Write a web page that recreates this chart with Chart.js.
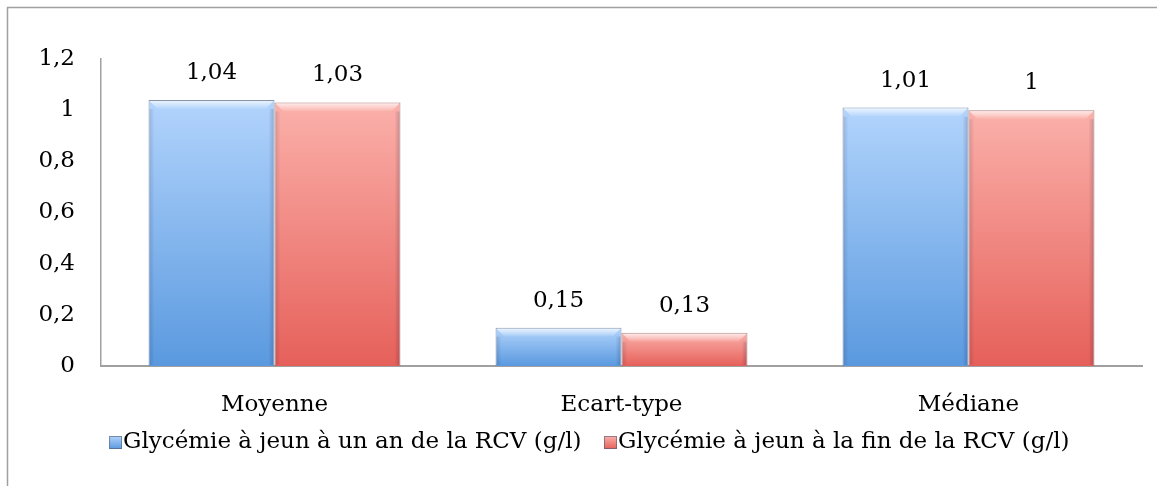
<!DOCTYPE html>
<html>
<head>
<meta charset="utf-8">
<script src="https://cdn.jsdelivr.net/npm/chart.js@4/dist/chart.umd.min.js"></script>
<style>
  html, body { margin: 0; padding: 0; background: #fff; }
  #wrap { width: 1157px; height: 486px; position: relative; }
</style>
</head>
<body>
<div id="wrap"><canvas id="myChart" width="1157" height="486"></canvas></div>
<script>
// donnees
var categories = ['Moyenne', 'Ecart-type', 'Médiane'];
var serieUnAn = [1.04, 0.15, 1.01];
var serieFin = [1.03, 0.13, 1.00];
var nomsSeries = ['Glycémie à jeun à un an de la RCV (g/l)', 'Glycémie à jeun à la fin de la RCV (g/l)'];
var yTicks = [0, 0.2, 0.4, 0.6, 0.8, 1, 1.2];

var police = 'DejaVu Serif';
var taille = 23;

// couleurs (haut clair, bas fonce)
var bleu = ['#b2d4fc', '#5a99df'];
var rouge = ['#fbb0aa', '#e6605a'];

function virgule(v) {
  return String(Math.round(v * 100) / 100).replace('.', ',');
}

function degradeBarre(c, couleurs) {
  var chart = c.chart;
  if (!chart.chartArea || c.type !== 'data') return couleurs[1];
  var y = chart.scales.y;
  var haut = y.getPixelForValue(c.raw);
  var bas = y.getPixelForValue(0);
  if (bas - haut < 1) return couleurs[1];
  var g = chart.ctx.createLinearGradient(0, haut, 0, bas);
  g.addColorStop(0, couleurs[0]);
  g.addColorStop(1, couleurs[1]);
  return g;
}

// petit carre de legende (decale a droite pour coller au texte)
function marqueur(couleurs) {
  var cv = document.createElement('canvas');
  cv.width = 34; cv.height = 13;
  var cx = cv.getContext('2d');
  var g = cx.createLinearGradient(0, 0, 0, 13);
  g.addColorStop(0, couleurs[0]);
  g.addColorStop(1, couleurs[1]);
  cx.fillStyle = g;
  cx.fillRect(21, 0, 13, 13);
  cx.strokeStyle = 'rgba(80,90,110,0.6)';
  cx.lineWidth = 1;
  cx.strokeRect(21.5, 0.5, 12, 12);
  return cv;
}

// cadre exterieur (haut et gauche)
var cadre = {
  id: 'cadre',
  afterLayout: function(chart) {
    // la legende d'origine est un peu decalee vers la droite
    chart.legend.left += 13;
    chart.legend.right += 13;
  },
  beforeDraw: function(chart) {
    var ctx = chart.ctx;
    ctx.save();
    ctx.strokeStyle = '#a0a0a0';
    ctx.lineWidth = 1.5;
    ctx.beginPath();
    ctx.moveTo(7.5, 486);
    ctx.lineTo(7.5, 7.5);
    ctx.lineTo(1157, 7.5);
    ctx.stroke();
    ctx.restore();
  }
};

// effet de relief + etiquettes de valeurs
var relief = {
  id: 'relief',
  afterDatasetsDraw: function(chart) {
    var ctx = chart.ctx;
    ctx.save();
    chart.data.datasets.forEach(function(ds, i) {
      chart.getDatasetMeta(i).data.forEach(function(bar, j) {
        var x0 = bar.x - bar.width / 2, x1 = bar.x + bar.width / 2;
        var y0 = bar.y, y1 = bar.base;
        var h = y1 - y0;
        var b = Math.min(9, h / 2);
        // bande claire en haut
        var g = ctx.createLinearGradient(0, y0, 0, y0 + b);
        g.addColorStop(0, 'rgba(255,255,255,0.8)');
        g.addColorStop(1, 'rgba(255,255,255,0.05)');
        ctx.fillStyle = g;
        ctx.beginPath();
        ctx.moveTo(x0 + 1, y0 + 1);
        ctx.lineTo(x1 - 1, y0 + 1);
        ctx.lineTo(x1 - b, y0 + b);
        ctx.lineTo(x0 + b, y0 + b);
        ctx.closePath();
        ctx.fill();
        // bords lateraux plus sombres
        var gl = ctx.createLinearGradient(x0, 0, x0 + 6, 0);
        gl.addColorStop(0, 'rgba(0,0,40,0.15)');
        gl.addColorStop(1, 'rgba(0,0,40,0)');
        ctx.fillStyle = gl;
        ctx.fillRect(x0 + 1, y0 + b, 6, h - b - 1);
        var gr = ctx.createLinearGradient(x1, 0, x1 - 6, 0);
        gr.addColorStop(0, 'rgba(0,0,40,0.2)');
        gr.addColorStop(1, 'rgba(0,0,40,0)');
        ctx.fillStyle = gr;
        ctx.fillRect(x1 - 7, y0 + b, 6, h - b - 1);
        // etiquette
        ctx.fillStyle = '#000';
        ctx.font = taille + 'px "' + police + '"';
        ctx.textAlign = 'center';
        ctx.textBaseline = 'middle';
        ctx.fillText(virgule(ds.data[j]), bar.x, y0 - 27);
      });
    });
    ctx.restore();
  }
};

var ctx = document.getElementById('myChart').getContext('2d');
var myChart = new Chart(ctx, {
  type: 'bar',
  data: {
    labels: categories,
    datasets: [
      {
        label: nomsSeries[0],
        data: serieUnAn,
        backgroundColor: function(c) { return degradeBarre(c, bleu); },
        borderColor: 'rgba(70,90,120,0.65)',
        borderWidth: 1,
        pointStyle: marqueur(bleu),
        categoryPercentage: 0.726,
        barPercentage: 1.0
      },
      {
        label: nomsSeries[1],
        data: serieFin,
        backgroundColor: function(c) { return degradeBarre(c, rouge); },
        borderColor: 'rgba(120,70,70,0.65)',
        borderWidth: 1,
        pointStyle: marqueur(rouge),
        categoryPercentage: 0.726,
        barPercentage: 1.0
      }
    ]
  },
  options: {
    responsive: false,
    animation: false,
    layout: { padding: { top: 59, right: 15, left: 0, bottom: 22 } },
    plugins: {
      tooltip: { enabled: false },
      legend: {
        position: 'bottom',
        labels: {
          usePointStyle: true,
          boxWidth: 13,
          boxHeight: 13,
          padding: 12,
          color: '#000',
          font: { family: police, size: taille }
        }
      }
    },
    scales: {
      x: {
        grid: { display: false, drawTicks: false },
        border: { display: true, color: '#a0a0a0', width: 2 },
        ticks: { color: '#000', padding: 25, font: { family: police, size: taille } },
        afterFit: function(s) { s.height = 53; }
      },
      y: {
        min: 0,
        max: 1.2,
        afterBuildTicks: function(s) { s.ticks = yTicks.map(function(v) { return { value: v }; }); },
        grid: { display: false, drawTicks: false },
        border: { display: true, color: '#a0a0a0', width: 1.5 },
        ticks: {
          color: '#000',
          padding: 26,
          font: { family: police, size: taille },
          callback: function(v) { return virgule(v); }
        },
        afterFit: function(s) { s.width = 101; }
      }
    }
  },
  plugins: [cadre, relief]
});
</script>
</body>
</html>
